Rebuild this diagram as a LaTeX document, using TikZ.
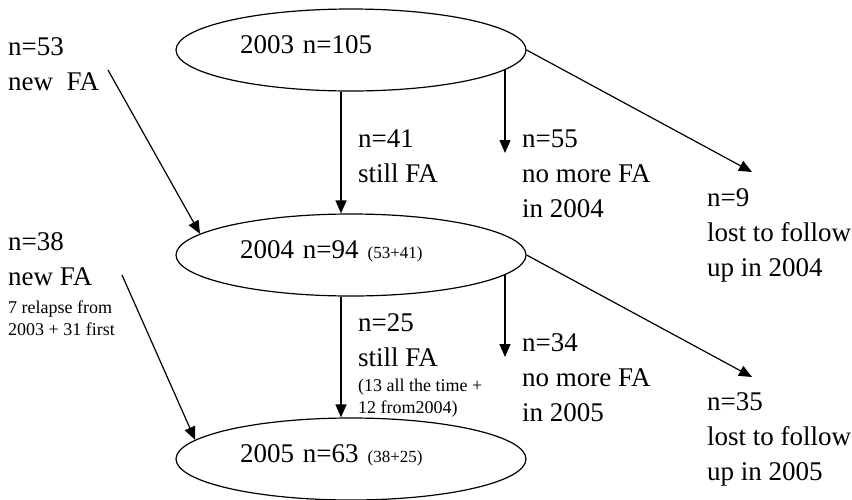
\documentclass[tikz,border=0pt]{standalone}
\usepackage{fontspec}
\setmainfont{Liberation Serif}
\usetikzlibrary{arrows.meta,shapes.geometric}

\begin{document}
\begin{tikzpicture}[x=1pt,y=-1pt,
    year/.style={ellipse,draw,line width=1.2pt,minimum width=350pt,minimum height=82pt,
      inner sep=0pt,text width=222pt,align=left,text height=14pt,text depth=8pt,
      font=\fontsize{27}{35}\selectfont},
    lbl/.style={anchor=base west,align=left,inner sep=0pt,font=\fontsize{27}{35}\selectfont},
    note/.style={anchor=base west,align=left,inner sep=0pt,font=\fontsize{18}{22}\selectfont},
    flow/.style={-{Triangle[length=13pt,width=11pt]},line width=1.2pt}]
    \useasboundingbox (0,0) rectangle (852,499);
      %the three years, one below the other
    \node[year] (y03) at (351,50) {2003 n=105};
    \node[year] (y04) at (351,255) {2004 n=94 {\fontsize{17}{20}\selectfont (53+41)}};
    \node[year] (y05) at (351,459) {2005 n=63 {\fontsize{17}{20}\selectfont (38+25)}};
      %new cases on the left (placed at the baseline of the last line)
    \node[lbl] (new53) at (8,90) {n=53\\new~~FA};
    \node[lbl] (new38) at (8,285) {n=38\\new FA};
    \node[note] (new38note) at (8,335) {7 relapse from\\2003 + 31 first};
      %labels next to the arrows
    \node[lbl] (still41) at (358,182) {n=41\\still FA};
    \node[lbl] (nomore55) at (522,217) {n=55\\no more FA\\in 2004};
    \node[lbl] (lost9) at (707,276) {n=9\\lost to follow\\up in 2004};
    \node[lbl] (still25) at (358,366) {n=25\\still FA};
    \node[note] (still25note) at (358,413) {(13 all the time +\\12 from2004)};
    \node[lbl] (nomore34) at (522,421) {n=34\\no more FA\\in 2005};
    \node[lbl] (lost35) at (707,480) {n=35\\lost to follow\\up in 2005};
      %free ends of the arrows
    \coordinate (from53) at (108,70);
    \coordinate (from38) at (122,275);
    \coordinate (to55) at (505,153);
    \coordinate (to9) at (752,172);
    \coordinate (to34) at (505,357);
    \coordinate (to35) at (752,377);
      %arrows
    \draw[flow] ([xshift=-10pt]y03.south) -- ([xshift=-10pt]y04.north);
    \draw[flow] (y03.-7 -| to55) -- (to55);
    \draw[flow] (y03.east) -- (to9);
    \draw[flow] (from53) -- (y04.172);
    \draw[flow] ([xshift=-10pt]y04.south) -- ([xshift=-10pt]y05.north);
    \draw[flow] (y04.-7 -| to34) -- (to34);
    \draw[flow] (y04.east) -- (to35);
    \draw[flow] (from38) -- (y05.173);
\end{tikzpicture}
\end{document}
